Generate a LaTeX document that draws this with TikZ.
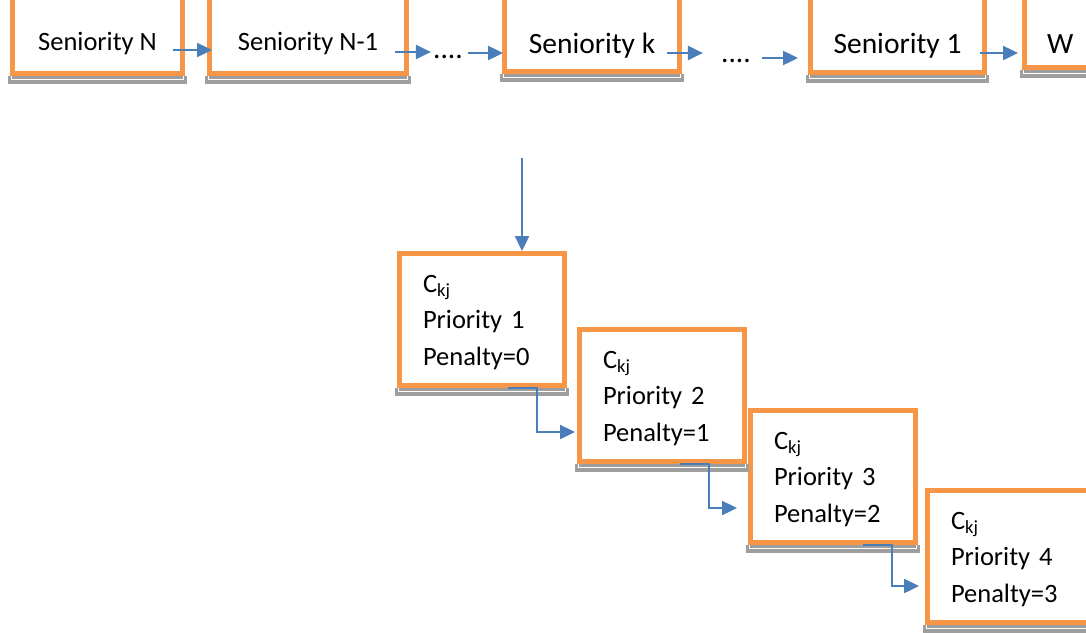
\documentclass[tikz,border=0pt]{standalone}
\usepackage{fontspec}
\setmainfont{Carlito}
\definecolor{BoxOrange}{HTML}{F79646}
\definecolor{LinkBlue}{HTML}{4A7EBB}
\definecolor{ShadeGray}{HTML}{9E9E9E}
\usepackage{tikz}
\usetikzlibrary{arrows.meta}

\begin{document}
\begin{tikzpicture}[x=1pt, y=-1pt,
    senbox/.style={draw=BoxOrange, line width=5pt, fill=white, inner sep=0pt, anchor=base},
    cbox/.style={draw=BoxOrange, line width=5pt, fill=white, anchor=north west,
      minimum width=165pt, minimum height=132pt, inner xsep=23.5pt, inner ysep=0pt,
      text width=118pt, align=left, font=\fontsize{26.5}{36.5}\selectfont},
    dots/.style={inner sep=0pt, anchor=base, font=\fontsize{29.5}{30}\selectfont},
    conn/.style={draw=LinkBlue, line width=2.4pt, line join=miter,
      -{Triangle[length=15pt,width=14pt]}}]
      \useasboundingbox (0,0) rectangle (1086,632);
      \clip (0,0) rectangle (1086,632);
      \fill[white] (0,0) rectangle (1086,632);

      % Seniority chain
      \node[senbox, minimum width=170pt, text height=80pt, text depth=23.5pt,
        font=\fontsize{26.5}{30}\selectfont] (sN) at (97.5,50) {Seniority N};
      \node[senbox, minimum width=197pt, text height=80pt, text depth=23.5pt,
        font=\fontsize{26.5}{30}\selectfont] (sN1) at (308,50) {Seniority N-1};
      \node[dots] (d1) at (448,58) {....};
      \node[senbox, minimum width=175pt, text height=83pt, text depth=18pt,
        font=\fontsize{29.5}{32}\selectfont] (sk) at (592,53) {Seniority k};
      \node[dots] (d2) at (736,62) {....};
      \node[senbox, minimum width=174pt, text height=83pt, text depth=19pt,
        font=\fontsize{29.5}{32}\selectfont] (s1) at (897.5,53) {Seniority 1};
      \node[senbox, anchor=base west, inner xsep=22.5pt, text height=83pt, text depth=14pt,
        font=\fontsize{29.5}{32}\selectfont] (W) at (1022,53) {W\hspace*{150pt}};

      % Candidate boxes
      \foreach \i/\p/\x/\y in {1/0/397/251, 2/1/577/327, 3/2/748/408, 4/3/925/488} {
        \node[cbox] (c\i) at (\x,\y) {\rule{0pt}{23pt}C\textsubscript{kj}\\Priority \i\\Penalty=\p};
      }

      % shadows under the boxes
      \foreach \n in {sN, sN1, sk, s1, W, c1, c2, c3, c4} {
        \fill[ShadeGray] ([xshift=-2pt]\n.south west) rectangle ([xshift=2pt,yshift=-8pt]\n.south east);
        \draw[white, line width=0.6pt] ([xshift=1.5pt]\n.south west) -- ([xshift=1.5pt,yshift=-3.5pt]\n.south west)
          -- ([xshift=-1.5pt,yshift=-3.5pt]\n.south east) -- ([xshift=-1.5pt]\n.south east);
      }

      % links along the chain
      \draw[conn, shorten >=-5pt] ([xshift=-12pt]sN.base east) -- (sN1.base west);
      \draw[conn, shorten >=2pt] ([xshift=-14pt,yshift=-2pt]sN1.base east) -- ([yshift=6pt]d1.base west);
      \draw[conn, shorten >=-1pt] ([xshift=5pt,yshift=5pt]d1.base east) -- (sk.base west);
      \draw[conn] ([xshift=-15pt]sk.base east) -- ([xshift=-18pt,yshift=9pt]d2.base west);
      \draw[conn, shorten >=10pt] ([xshift=11pt,yshift=4pt]d2.base east) -- ([yshift=-5pt]s1.base west);
      \draw[conn, shorten >=4pt] ([xshift=-7pt]s1.base east) -- (W.base west);

      % drop into the first candidate, then step down
      \coordinate (drop) at (522,158);
      \draw[conn] (drop) -- ([xshift=40pt]c1.north);
      \draw[conn, shorten >=2pt] ([xshift=26pt]c1.south) -| ([xshift=-40pt,yshift=-36.5pt]c2.west) -- ([yshift=-36.5pt]c2.west);
      \draw[conn, shorten >=11pt] ([xshift=18pt]c2.south) -| ([xshift=-39pt,yshift=-31.5pt]c3.west) -- ([yshift=-31.5pt]c3.west);
      \draw[conn, shorten >=6pt] ([xshift=30pt]c3.south) -| ([xshift=-33pt,yshift=-29.5pt]c4.west) -- ([yshift=-29.5pt]c4.west);
    \end{tikzpicture}
\end{document}
